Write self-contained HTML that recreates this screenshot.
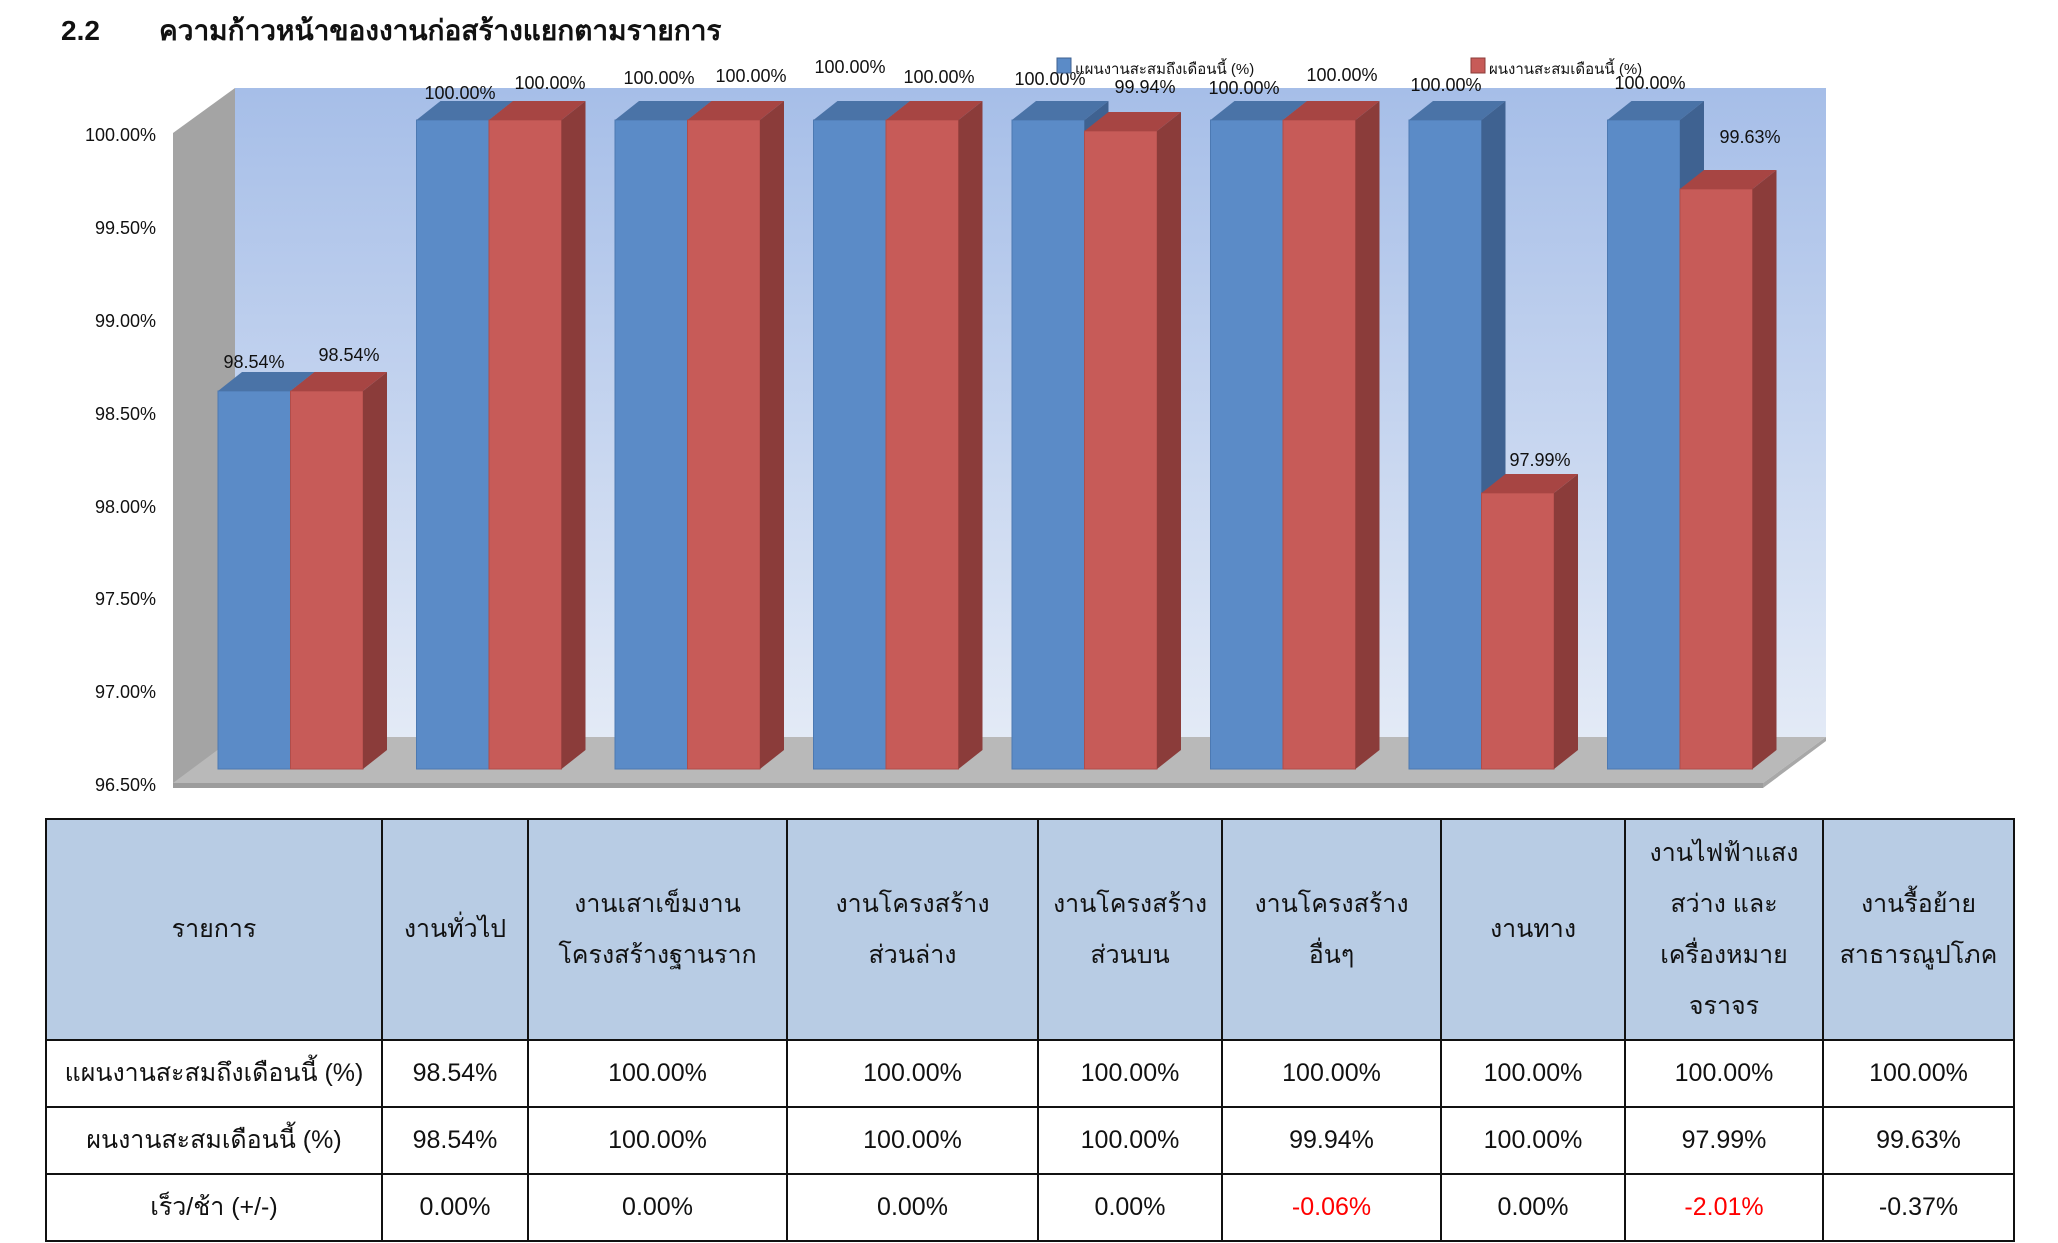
<!DOCTYPE html>
<html>
<head>
<meta charset="utf-8">
<style>
  html,body{margin:0;padding:0;background:#fff;}
  body{width:2058px;height:1243px;position:relative;overflow:hidden;font-family:"Liberation Sans","DejaVu Sans",sans-serif;}
  svg{position:absolute;left:0;top:0;}
  table{position:absolute;left:45px;top:818px;border-collapse:collapse;table-layout:fixed;width:1968px;}
  td{border:2px solid #111;text-align:center;vertical-align:middle;font-size:25px;color:#111;padding:0;line-height:51px;font-family:"Liberation Sans Narrow","Liberation Sans","DejaVu Sans",sans-serif;}
  tr.h td{background:#b8cce4;height:219px;}
  tr.b td{height:65px;}
  .red{color:#ff0000;}
</style>
</head>
<body>
<svg width="2058" height="1243" viewBox="0 0 2058 1243" xmlns="http://www.w3.org/2000/svg">
  <defs>
    <linearGradient id="bw" x1="0" y1="0" x2="0" y2="1">
      <stop offset="0" stop-color="#a6bee8"/>
      <stop offset="1" stop-color="#e3eaf6"/>
    </linearGradient>
  </defs>
  <!-- title -->
  <text x="61" y="40" font-family="Liberation Sans, DejaVu Sans, sans-serif" font-size="28" font-weight="bold" fill="#111">2.2</text>
  <text x="159" y="40" font-family="Liberation Sans, DejaVu Sans, sans-serif" font-size="28" font-weight="bold" fill="#111">ความก้าวหน้าของงานก่อสร้างแยกตามรายการ</text>

  <!-- back wall -->
  <rect x="235" y="88" width="1591" height="649" fill="url(#bw)"/>
  <!-- left wall -->
  <polygon points="173,133 235,88 235,737 173,785" fill="#a4a4a4"/>
  <!-- floor -->
  <polygon points="173,783 235,737 1826,737 1763,783" fill="#b9b9b9"/>
  <rect x="173" y="783" width="1590" height="5" fill="#9c9c9c"/>
  <polygon points="1763,783 1826,737 1826,741 1763,788" fill="#a8a8a8"/>

  <!-- y axis labels -->
  <g font-family="Liberation Sans, DejaVu Sans, sans-serif" font-size="18" fill="#111" text-anchor="end">
    <text x="156" y="141">100.00%</text>
    <text x="156" y="234">99.50%</text>
    <text x="156" y="327">99.00%</text>
    <text x="156" y="420">98.50%</text>
    <text x="156" y="513">98.00%</text>
    <text x="156" y="605">97.50%</text>
    <text x="156" y="698">97.00%</text>
    <text x="156" y="791">96.50%</text>
  </g>

  <!-- bars -->
  <g stroke-width="1">
    <!-- G1 -->
    <rect x="218" y="391" width="72.5" height="378" fill="#5b8bc7" stroke="#4c79b2"/>
    <polygon points="218,391 242,372 314.5,372 290.5,391" fill="#4a73a7"/>
    <polygon points="290.5,391 314.5,372 314.5,750 290.5,769" fill="#3f6291"/>
    <rect x="290.5" y="391" width="72.5" height="378" fill="#c75b58" stroke="#b04d4a"/>
    <polygon points="290.5,391 314.5,372 387,372 363,391" fill="#a74543"/>
    <polygon points="363,391 387,372 387,750 363,769" fill="#8b3c3a"/>
    <!-- G2 -->
    <rect x="416.5" y="120" width="72.5" height="649" fill="#5b8bc7" stroke="#4c79b2"/>
    <polygon points="416.5,120 440.5,101 513,101 489,120" fill="#4a73a7"/>
    <polygon points="489,120 513,101 513,750 489,769" fill="#3f6291"/>
    <rect x="489" y="120" width="72.5" height="649" fill="#c75b58" stroke="#b04d4a"/>
    <polygon points="489,120 513,101 585.5,101 561.5,120" fill="#a74543"/>
    <polygon points="561.5,120 585.5,101 585.5,750 561.5,769" fill="#8b3c3a"/>
    <!-- G3 -->
    <rect x="615" y="120" width="72.5" height="649" fill="#5b8bc7" stroke="#4c79b2"/>
    <polygon points="615,120 639,101 711.5,101 687.5,120" fill="#4a73a7"/>
    <polygon points="687.5,120 711.5,101 711.5,750 687.5,769" fill="#3f6291"/>
    <rect x="687.5" y="120" width="72.5" height="649" fill="#c75b58" stroke="#b04d4a"/>
    <polygon points="687.5,120 711.5,101 784,101 760,120" fill="#a74543"/>
    <polygon points="760,120 784,101 784,750 760,769" fill="#8b3c3a"/>
    <!-- G4 -->
    <rect x="813.5" y="120" width="72.5" height="649" fill="#5b8bc7" stroke="#4c79b2"/>
    <polygon points="813.5,120 837.5,101 910,101 886,120" fill="#4a73a7"/>
    <polygon points="886,120 910,101 910,750 886,769" fill="#3f6291"/>
    <rect x="886" y="120" width="72.5" height="649" fill="#c75b58" stroke="#b04d4a"/>
    <polygon points="886,120 910,101 982.5,101 958.5,120" fill="#a74543"/>
    <polygon points="958.5,120 982.5,101 982.5,750 958.5,769" fill="#8b3c3a"/>
    <!-- G5 -->
    <rect x="1012" y="120" width="72.5" height="649" fill="#5b8bc7" stroke="#4c79b2"/>
    <polygon points="1012,120 1036,101 1108.5,101 1084.5,120" fill="#4a73a7"/>
    <polygon points="1084.5,120 1108.5,101 1108.5,750 1084.5,769" fill="#3f6291"/>
    <rect x="1084.5" y="131" width="72.5" height="638" fill="#c75b58" stroke="#b04d4a"/>
    <polygon points="1084.5,131 1108.5,112 1181,112 1157,131" fill="#a74543"/>
    <polygon points="1157,131 1181,112 1181,750 1157,769" fill="#8b3c3a"/>
    <!-- G6 -->
    <rect x="1210.5" y="120" width="72.5" height="649" fill="#5b8bc7" stroke="#4c79b2"/>
    <polygon points="1210.5,120 1234.5,101 1307,101 1283,120" fill="#4a73a7"/>
    <polygon points="1283,120 1307,101 1307,750 1283,769" fill="#3f6291"/>
    <rect x="1283" y="120" width="72.5" height="649" fill="#c75b58" stroke="#b04d4a"/>
    <polygon points="1283,120 1307,101 1379.5,101 1355.5,120" fill="#a74543"/>
    <polygon points="1355.5,120 1379.5,101 1379.5,750 1355.5,769" fill="#8b3c3a"/>
    <!-- G7 -->
    <rect x="1409" y="120" width="72.5" height="649" fill="#5b8bc7" stroke="#4c79b2"/>
    <polygon points="1409,120 1433,101 1505.5,101 1481.5,120" fill="#4a73a7"/>
    <polygon points="1481.5,120 1505.5,101 1505.5,750 1481.5,769" fill="#3f6291"/>
    <rect x="1481.5" y="493" width="72.5" height="276" fill="#c75b58" stroke="#b04d4a"/>
    <polygon points="1481.5,493 1505.5,474 1578,474 1554,493" fill="#a74543"/>
    <polygon points="1554,493 1578,474 1578,750 1554,769" fill="#8b3c3a"/>
    <!-- G8 -->
    <rect x="1607.5" y="120" width="72.5" height="649" fill="#5b8bc7" stroke="#4c79b2"/>
    <polygon points="1607.5,120 1631.5,101 1704,101 1680,120" fill="#4a73a7"/>
    <polygon points="1680,120 1704,101 1704,750 1680,769" fill="#3f6291"/>
    <rect x="1680" y="189" width="72.5" height="580" fill="#c75b58" stroke="#b04d4a"/>
    <polygon points="1680,189 1704,170 1776.5,170 1752.5,189" fill="#a74543"/>
    <polygon points="1752.5,189 1776.5,170 1776.5,750 1752.5,769" fill="#8b3c3a"/>
  </g>

  <!-- data labels -->
  <g font-family="Liberation Sans, DejaVu Sans, sans-serif" font-size="18" fill="#111" text-anchor="middle">
    <text x="254" y="368">98.54%</text>
    <text x="349" y="361">98.54%</text>
    <text x="460" y="99">100.00%</text>
    <text x="550" y="89">100.00%</text>
    <text x="659" y="84">100.00%</text>
    <text x="751" y="82">100.00%</text>
    <text x="850" y="73">100.00%</text>
    <text x="939" y="83">100.00%</text>
    <text x="1050" y="85">100.00%</text>
    <text x="1145" y="93">99.94%</text>
    <text x="1244" y="94">100.00%</text>
    <text x="1342" y="81">100.00%</text>
    <text x="1446" y="91">100.00%</text>
    <text x="1540" y="466">97.99%</text>
    <text x="1650" y="89">100.00%</text>
    <text x="1750" y="143">99.63%</text>
  </g>

  <!-- legend -->
  <rect x="1057" y="58" width="14" height="15" fill="#5b8bc7" stroke="#3f6291"/>
  <text x="1075" y="74" font-family="Liberation Sans, DejaVu Sans, sans-serif" font-size="15" fill="#111">แผนงานสะสมถึงเดือนนี้ (%)</text>
  <rect x="1471" y="58" width="14" height="15" fill="#c75b58" stroke="#8b3c3a"/>
  <text x="1489" y="74" font-family="Liberation Sans, DejaVu Sans, sans-serif" font-size="15" fill="#111">ผนงานสะสมเดือนนี้ (%)</text>
</svg>

<table>
  <colgroup>
    <col style="width:336px"><col style="width:146px"><col style="width:259px"><col style="width:251px"><col style="width:184px"><col style="width:219px"><col style="width:184px"><col style="width:198px"><col style="width:191px">
  </colgroup>
  <tr class="h">
    <td>รายการ</td>
    <td>งานทั่วไป</td>
    <td>งานเสาเข็มงาน<br>โครงสร้างฐานราก</td>
    <td>งานโครงสร้าง<br>ส่วนล่าง</td>
    <td>งานโครงสร้าง<br>ส่วนบน</td>
    <td>งานโครงสร้าง<br>อื่นๆ</td>
    <td>งานทาง</td>
    <td>งานไฟฟ้าแสง<br>สว่าง และ<br>เครื่องหมาย<br>จราจร</td>
    <td>งานรื้อย้าย<br>สาธารณูปโภค</td>
  </tr>
  <tr class="b">
    <td>แผนงานสะสมถึงเดือนนี้ (%)</td>
    <td>98.54%</td><td>100.00%</td><td>100.00%</td><td>100.00%</td><td>100.00%</td><td>100.00%</td><td>100.00%</td><td>100.00%</td>
  </tr>
  <tr class="b">
    <td>ผนงานสะสมเดือนนี้ (%)</td>
    <td>98.54%</td><td>100.00%</td><td>100.00%</td><td>100.00%</td><td>99.94%</td><td>100.00%</td><td>97.99%</td><td>99.63%</td>
  </tr>
  <tr class="b">
    <td>เร็ว/ช้า (+/-)</td>
    <td>0.00%</td><td>0.00%</td><td>0.00%</td><td>0.00%</td><td class="red">-0.06%</td><td>0.00%</td><td class="red">-2.01%</td><td>-0.37%</td>
  </tr>
</table>
</body>
</html>
